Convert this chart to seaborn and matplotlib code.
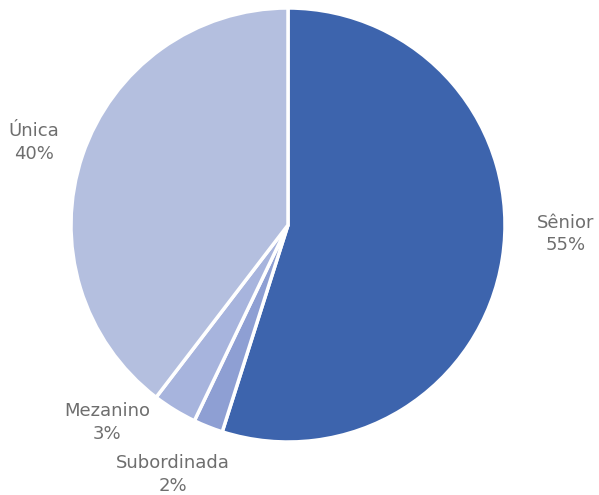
import matplotlib
matplotlib.use('Agg')
import matplotlib.pyplot as plt
import seaborn as sns

categories = ['Sênior', 'Subordinada', 'Mezanino', 'Única']
shares = [54.9, 2.2, 3.3, 39.6]
pct_labels = ['55%', '2%', '3%', '40%']
colors = ['#3D64AD', '#8E9FD3', '#A7B4DD', '#B4BFDF']

sns.set_style('white')
plt.rcParams['font.family'] = ['DejaVu Sans']

fig = plt.figure(figsize=(5.99, 4.95), dpi=100)
ax = fig.add_axes([0, 0, 1, 1])

# Pie centered at pixel (288, 225) with radius 217 px.
r = 217.0
wedges, _ = ax.pie(
    shares, colors=colors, startangle=90, counterclock=False,
    radius=1.0, wedgeprops=dict(edgecolor='white', linewidth=2.5))

ax.set_xlim(-288 / r, (599 - 288) / r)
ax.set_ylim(-(495 - 225) / r, 225 / r)
ax.set_aspect('equal')
ax.axis('off')

label_pos = [(1.28, -0.04), (-0.53, -1.15), (-0.835, -0.91), (-1.17, 0.38)]
for cat, pct, (x, y) in zip(categories, pct_labels, label_pos):
    ax.text(x, y, f'{cat}\n{pct}', ha='center', va='center',
            fontsize=13, color='#6E6E6E', linespacing=1.3)

plt.savefig('out.png', dpi=100)
